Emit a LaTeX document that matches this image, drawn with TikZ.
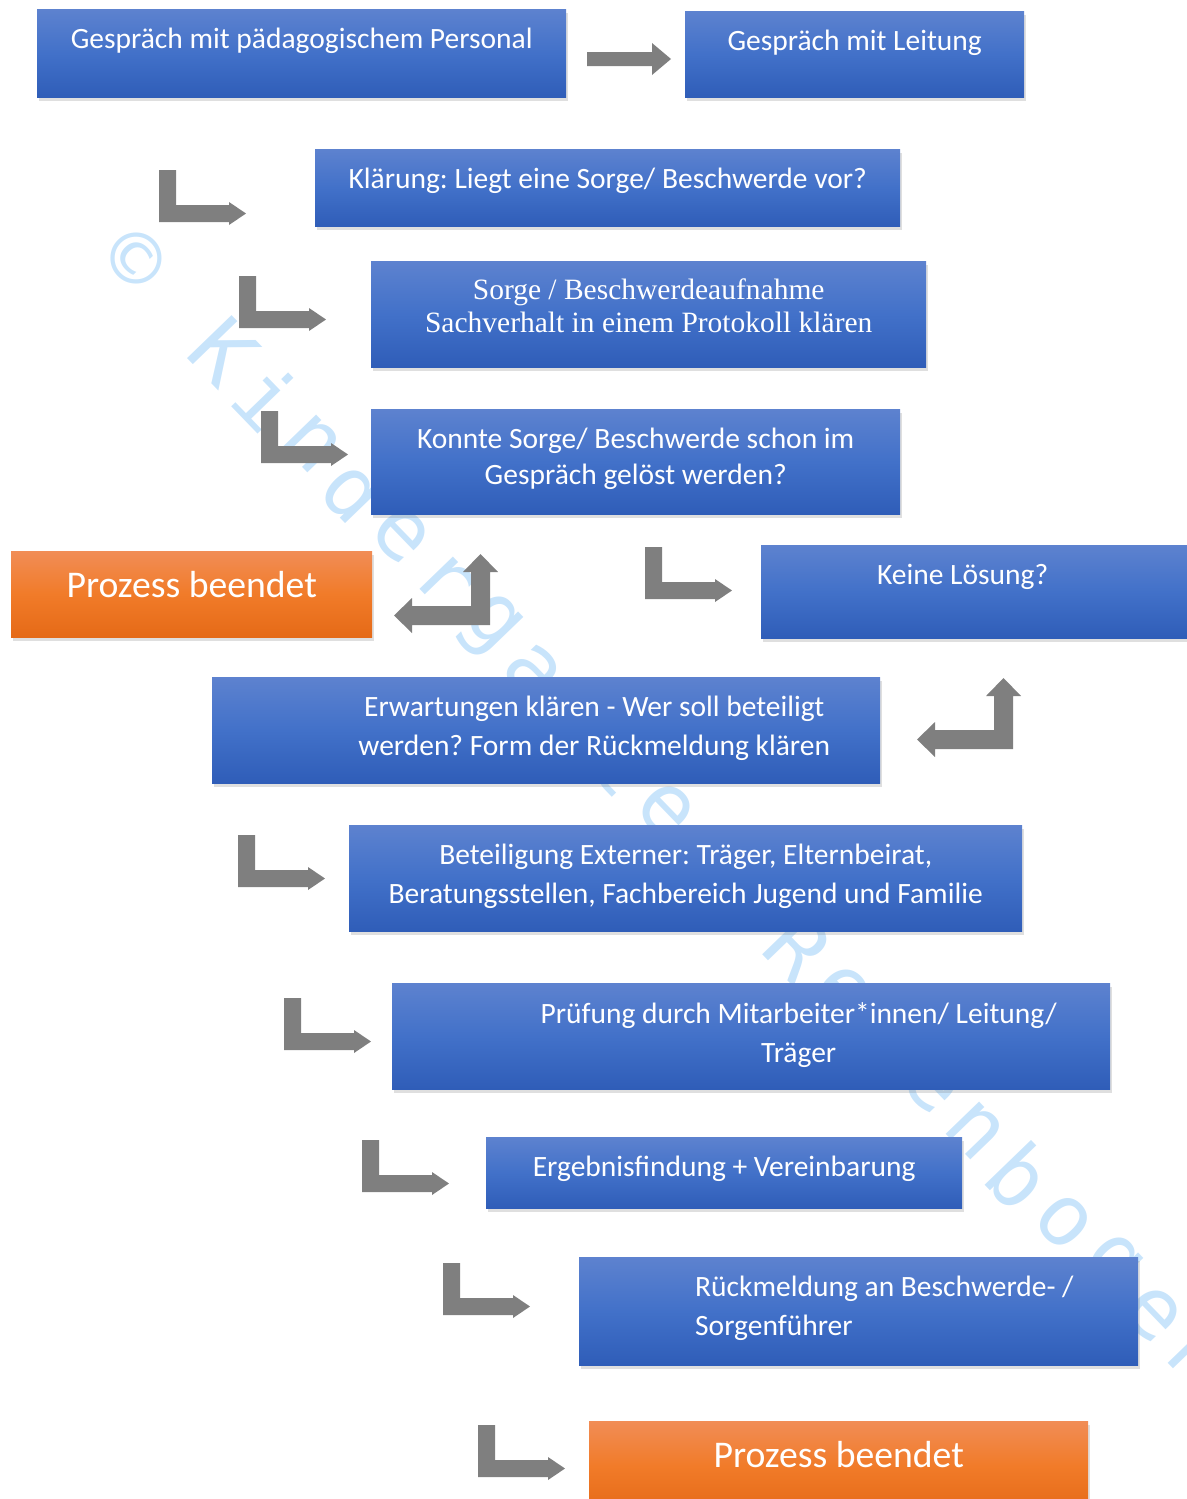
\documentclass[tikz,border=0pt]{standalone}
\usepackage{fontspec}
\setmainfont{Carlito}
\newfontfamily\timesfont{Liberation Serif}
\newfontfamily\markfont{DejaVu Sans Mono}
\usetikzlibrary{shadows,calc}
\frenchspacing
\definecolor{boxtop}{RGB}{93,130,207}
\definecolor{boxmid}{RGB}{66,113,201}
\definecolor{boxbot}{RGB}{47,93,184}
\definecolor{orgtop}{RGB}{241,141,86}
\definecolor{orgmid}{RGB}{241,123,41}
\definecolor{orgbot}{RGB}{229,106,23}
\definecolor{arrowgrey}{RGB}{127,127,127}
\definecolor{markblue}{RGB}{200,228,251}
\tikzstyle{block} = [rectangle, anchor=north west, inner sep=0pt,
    top color=boxtop, bottom color=boxbot, middle color=boxmid,
    drop shadow={shadow xshift=2pt, shadow yshift=-4pt, opacity=0.25}]
\tikzstyle{stop} = [block, top color=orgtop, bottom color=orgbot, middle color=orgmid]
\tikzstyle{txt} = [text=white, inner sep=0pt, align=center, anchor=north,
    yshift=-19pt, font=\fontsize{29.5}{39}\selectfont]
\tikzstyle{stoptxt} = [txt, yshift=-1pt, font=\fontsize{37.7}{44}\selectfont]
\tikzstyle{wmark} = [text=markblue, inner sep=0pt, font=\markfont\fontsize{85}{90}\selectfont]
% grey bent arrows
\newcommand{\turnright}[1]{\fill[arrowgrey, shift={#1}] (0,0) -- (17,0) -- (17,35) -- (70,35)
    -- (70,32) -- (87,43.5) -- (70,55) -- (70,52) -- (0,52) -- cycle;}
\newcommand{\turnback}[1]{\fill[arrowgrey, shift={#1}] (0,0) -- (-78,0) -- (-78,8) -- (-96,-9.5)
    -- (-78,-27) -- (-78,-19) -- (-19,-19) -- (-19,-53) -- (-27,-53) -- (-9.5,-71)
    -- (8,-53) -- (0,-53) -- cycle;}
\begin{document}
\begin{tikzpicture}[x=1pt, y=-1pt]
    \useasboundingbox (0,0) rectangle (1186,1499);
    % watermark
    \foreach \ch [count=\i from 0] in {©,{},K,i,n,d,e,r,g,a,r,t,e,n,{},R,e,g,e,n,b,o,g,e,n}
        \node[wmark, rotate=-46] at ($(135,260)+(\i*44.25,\i*45.8)$) {\ch};
    % arrows
    \fill[arrowgrey] (587,52) -- (652,52) -- (652,43) -- (671,59) -- (652,75) -- (652,66) -- (587,66) -- cycle;
    \turnright{(159,170)}
    \turnright{(239,276)}
    \turnright{(261,411)}
    \turnright{(645,547)}
    \turnback{(490,625)}
    \turnback{(1013,749)}
    \turnright{(238,835)}
    \turnright{(284,998)}
    \turnright{(362,1140)}
    \turnright{(443,1263)}
    \turnright{(478,1425)}
    % Place nodes
    \node [block, minimum width=529pt, minimum height=88pt,
        label={[txt]north:{Gespräch mit pädagogischem Personal}}] (gpers) at (37,9) {};
    \node [block, minimum width=339pt, minimum height=86pt,
        label={[txt]north:{Gespräch mit Leitung}}] (gleit) at (685,11) {};
    \node [block, minimum width=585pt, minimum height=77pt,
        label={[txt]north:{Klärung: Liegt eine Sorge/ Beschwerde vor?}}] (klaer) at (315,149) {};
    \node [block, minimum width=555pt, minimum height=106pt,
        label={[txt, yshift=1pt, font=\timesfont\fontsize{29.5}{33}\selectfont]north:{Sorge / Beschwerdeaufnahme\\Sachverhalt in einem Protokoll klären}}] (aufn) at (371,261) {};
    \node [block, minimum width=529pt, minimum height=105pt,
        label={[txt, font=\fontsize{29.5}{36}\selectfont]north:{Konnte Sorge/ Beschwerde schon im\\Gespräch gelöst werden?}}] (geloest) at (371,409) {};
    \node [stop, minimum width=361pt, minimum height=86pt,
        label={[stoptxt]north:{Prozess beendet}}] (endeA) at (11,551) {};
    \node [block, minimum width=430pt, minimum height=93pt,
        label={[txt, xshift=-13.5pt]north:{Keine Lösung?}}] (keine) at (761,545) {};
    \node [block, minimum width=668pt, minimum height=106pt,
        label={[txt, xshift=48pt]north:{Erwartungen klären - Wer soll beteiligt\\werden? Form der Rückmeldung klären}}] (erwart) at (212,677) {};
    \node [block, minimum width=673pt, minimum height=106pt,
        label={[txt]north:{Beteiligung Externer: Träger, Elternbeirat,\\Beratungsstellen, Fachbereich Jugend und Familie}}] (extern) at (349,825) {};
    \node [block, minimum width=718pt, minimum height=106pt,
        label={[txt, xshift=47.5pt]north:{Prüfung durch Mitarbeiter*innen/ Leitung/\\Träger}}] (pruef) at (392,983) {};
    \node [block, minimum width=476pt, minimum height=71pt,
        label={[txt]north:{Ergebnisfindung + Vereinbarung}}] (ergeb) at (486,1137) {};
    \node [block, minimum width=559pt, minimum height=108pt,
        label={[txt, align=left, anchor=north west, xshift=116pt]north west:{Rückmeldung an Beschwerde- /\\Sorgenführer}}] (rueck) at (579,1257) {};
    \node [stop, minimum width=499pt, minimum height=90pt,
        label={[stoptxt]north:{Prozess beendet}}] (endeB) at (589,1421) {};
\end{tikzpicture}
\end{document}
